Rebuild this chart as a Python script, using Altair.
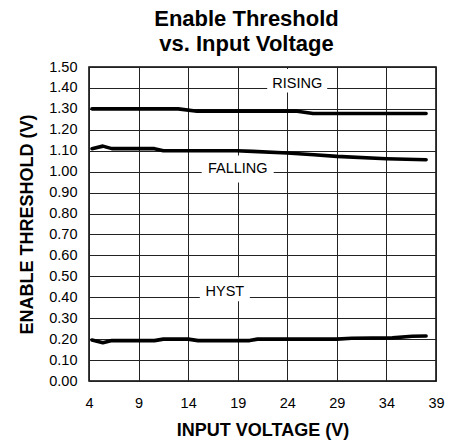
import altair as alt
import pandas as pd

# ---- data ----
rising_x = [4.3, 13.0, 14.9, 25.0, 26.6, 38.0]
rising_y = [1.300, 1.300, 1.289, 1.289, 1.278, 1.278]

falling_x = [4.3, 5.4, 6.3, 10.6, 11.5, 18.9, 20.5, 24.0, 26.7, 29.0, 34.0, 38.0]
falling_y = [1.110, 1.122, 1.110, 1.110, 1.100, 1.100, 1.097, 1.089, 1.081, 1.073, 1.062, 1.057]

hyst_x = [4.3, 5.4, 6.3, 10.6, 11.5, 14.0, 15.0, 20.2, 21.0, 29.0, 30.5, 34.6, 36.6, 38.0]
hyst_y = [0.196, 0.183, 0.193, 0.193, 0.200, 0.200, 0.193, 0.193, 0.200, 0.200, 0.204, 0.206, 0.214, 0.215]

label_text = ["RISING", "FALLING", "HYST"]
label_x = [25.0, 19.0, 17.7]
label_y = [1.421, 1.013, 0.424]

x_ticks = [4, 9, 14, 19, 24, 29, 34, 39]
y_ticks = [round(i * 0.1, 2) for i in range(16)]

# ---- layout constants ----
W, H = 347, 314
X_DOM, Y_DOM = [4, 39], [0, 1.5]
px_per_x = W / (X_DOM[1] - X_DOM[0])
px_per_y = H / (Y_DOM[1] - Y_DOM[0])
box_w_px = [60, 72, 50]
box_h_px = [26, 27, 24]
box_dy_px = [4, 0, 3]  # box centre above text centre (px)

rows = []
for name, xs, ys in [("RISING", rising_x, rising_y), ("FALLING", falling_x, falling_y), ("HYST", hyst_x, hyst_y)]:
    for i, (a, b) in enumerate(zip(xs, ys)):
        rows.append({"series": name, "x": a, "y": b, "order": i})
curves = pd.DataFrame(rows)

labels = pd.DataFrame({"text": label_text, "x": label_x, "y": label_y})
boxes = labels.copy()
boxes["yc"] = [y + dy / px_per_y for y, dy in zip(label_y, box_dy_px)]
boxes["x1"] = [x - w / 2 / px_per_x for x, w in zip(label_x, box_w_px)]
boxes["x2"] = [x + w / 2 / px_per_x for x, w in zip(label_x, box_w_px)]
boxes["y1"] = [min(1.49, yc + h / 2 / px_per_y) for yc, h in zip(boxes["yc"], box_h_px)]
boxes["y2"] = [yc - h / 2 / px_per_y for yc, h in zip(boxes["yc"], box_h_px)]

FONT = "Liberation Sans"

xscale = alt.Scale(domain=X_DOM, nice=False, zero=False)
yscale = alt.Scale(domain=Y_DOM, nice=False, zero=False)

xaxis = alt.Axis(values=x_ticks, title="INPUT VOLTAGE (V)", grid=True, ticks=False, domain=False,
                 labelFontSize=14.5, labelPadding=15, titleFontSize=18, titleFontWeight="bold",
                 titlePadding=12, labelFlush=False, labelOverlap=False)
yaxis = alt.Axis(values=y_ticks, format=".2f", title="ENABLE THRESHOLD (V)", grid=True, ticks=False,
                 domain=False, labelFontSize=14.5, labelPadding=12, titleFontSize=18,
                 titleFontWeight="bold", titlePadding=12, labelOverlap=False, tickCount=16)

base_lines = alt.Chart(curves).mark_line(color="black", strokeWidth=3.6, strokeCap="round",
                                          strokeJoin="round").encode(
    x=alt.X("x:Q", scale=xscale, axis=xaxis),
    y=alt.Y("y:Q", scale=yscale, axis=yaxis),
    detail="series:N",
    order="order:Q",
)

rects = alt.Chart(boxes).mark_rect(color="white").encode(
    x=alt.X("x1:Q", scale=xscale, axis=xaxis), x2="x2:Q",
    y=alt.Y("y1:Q", scale=yscale, axis=yaxis), y2="y2:Q",
)

texts = alt.Chart(labels).mark_text(font=FONT, fontSize=14.5, color="black").encode(
    x=alt.X("x:Q", scale=xscale, axis=xaxis), y=alt.Y("y:Q", scale=yscale, axis=yaxis),
    text="text:N"
)

chart = alt.layer(base_lines, rects, texts).properties(
    width=W, height=H,
    title=alt.Title(["Enable Threshold", "vs. Input Voltage"], fontSize=22, fontWeight="bold",
                    font=FONT, lineHeight=25, anchor="middle", dx=-16, offset=3, color="black"),
    autosize=alt.AutoSizeParams(type="none"),
    padding={"left": 81, "top": 59, "right": 17, "bottom": 62},
).configure_view(stroke="black", strokeWidth=1.5).configure_axis(
    gridColor="#222222", gridWidth=1, gridOpacity=1, labelFont=FONT, titleFont=FONT,
    labelColor="black", titleColor="black"
)

chart.save("out.html", embed_options={"renderer": "svg", "actions": False})
